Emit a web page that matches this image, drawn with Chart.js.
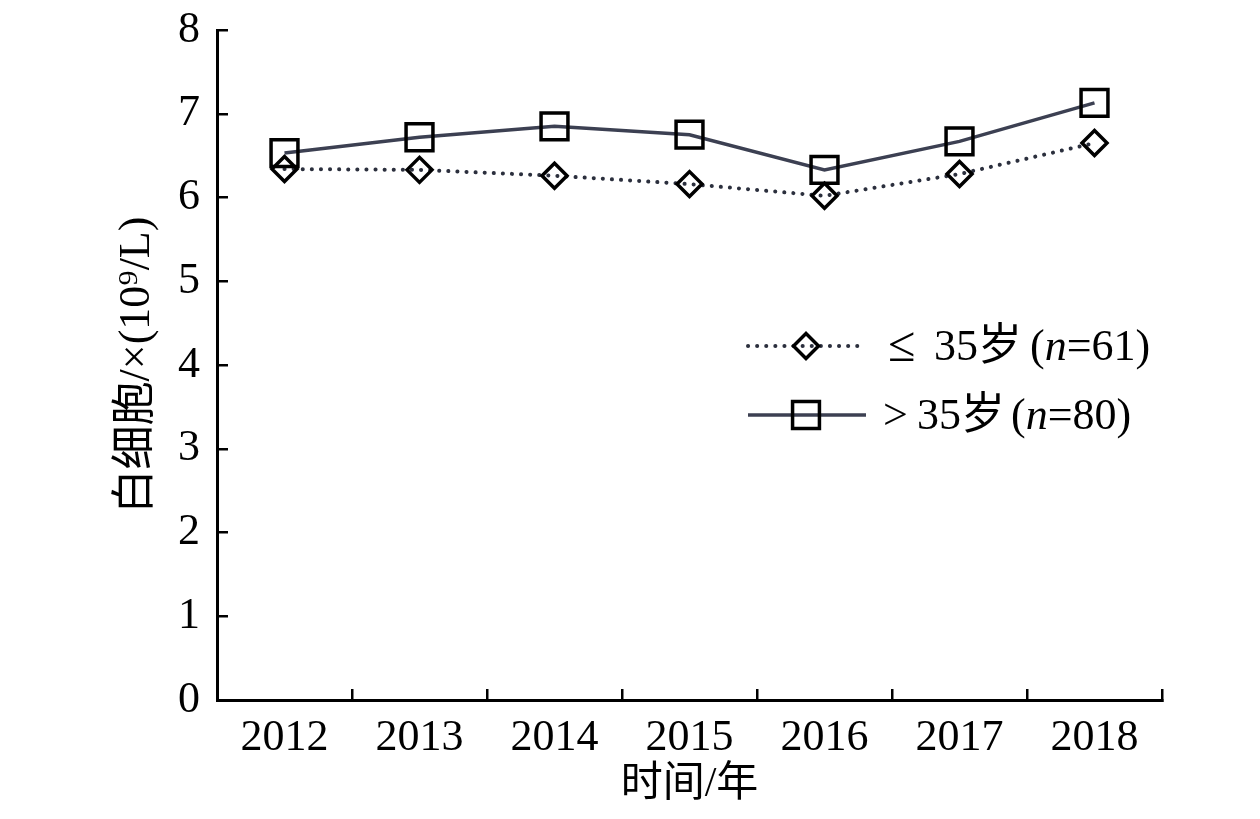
<!DOCTYPE html>
<html>
<head>
<meta charset="utf-8">
<script src="https://cdn.jsdelivr.net/npm/chart.js@4.4.1/dist/chart.umd.min.js"></script>
<style>
  html, body { margin: 0; padding: 0; background: #fff; }
</style>
</head>
<body>
<canvas id="chart-wbc" width="1260" height="819"></canvas>
<script>
// values
const years = ['2012', '2013', '2014', '2015', '2016', '2017', '2018'];
const youngValues = [6.34, 6.33, 6.26, 6.16, 6.02, 6.28, 6.65]; // <= 35 years
const olderValues = [6.53, 6.72, 6.85, 6.75, 6.33, 6.67, 7.13]; // > 35 years
const yMin = 0, yMax = 8, yStep = 1;
const youngLabel = ['\u2264', '35岁', '(', 'n', '=61)'];
const olderLabel = ['>', '35岁', '(', 'n', '=80)'];

const serif = '"Liberation Serif", "Times New Roman", "Noto Sans CJK SC", serif';
const lineGrey = '#3c4052';

const ctx = document.getElementById('chart-wbc').getContext('2d');

const youngSet = {
    label: youngLabel.join(' '),
    data: youngValues,
    borderColor: '#2b2f3d',
    borderWidth: 4,
    borderDash: [0.1, 9],
    borderCapStyle: 'round',
    pointStyle: 'rectRot',
    pointRadius: 12.5,
    pointBorderColor: '#000',
    pointBorderWidth: 3.5,
    pointBackgroundColor: 'rgba(0,0,0,0)',
    tension: 0
};
const olderSet = {
    label: olderLabel.join(' '),
    data: olderValues,
    borderColor: lineGrey,
    borderWidth: 3.5,
    pointStyle: 'rect',
    pointRadius: 19,
    pointBorderColor: '#000',
    pointBorderWidth: 3.5,
    pointBackgroundColor: 'rgba(0,0,0,0)',
    tension: 0
};

// legend drawn inside the plot, like the figure
const insideLegend = {
    id: 'insideLegend',
    afterDraw(chart) {
        const c = chart.ctx;
        const rows = [
            { ds: youngSet, parts: youngLabel, y: 346, x0: 748, x1: 860, starts: [888, 934, 1030], sym: 50 },
            { ds: olderSet, parts: olderLabel, y: 415, x0: 748, x1: 866, starts: [883, 917, 1011], sym: 44 }
        ];
        c.save();
        rows.forEach(r => {
            c.beginPath();
            c.strokeStyle = r.ds.borderColor;
            c.lineWidth = r.ds.borderWidth;
            c.lineCap = r.ds.borderCapStyle || 'butt';
            c.setLineDash(r.ds.borderDash || []);
            c.moveTo(r.x0, r.y);
            c.lineTo(r.x1, r.y);
            c.stroke();
            c.setLineDash([]);
            c.lineCap = 'butt';
            c.strokeStyle = '#000';
            c.fillStyle = 'rgba(0,0,0,0)';
            c.lineWidth = r.ds.pointBorderWidth;
            Chart.helpers.drawPoint(c, {
                pointStyle: r.ds.pointStyle,
                radius: r.ds.pointRadius,
                rotation: 0,
                borderWidth: r.ds.pointBorderWidth
            }, 806, r.y);

            c.fillStyle = '#000';
            c.textBaseline = 'middle';
            c.font = r.sym + 'px ' + serif;
            c.fillText(r.parts[0], r.starts[0], r.y + 2);
            c.font = '44px ' + serif;
            c.fillText(r.parts[1], r.starts[1], r.y + 2);
            let x = r.starts[2];
            r.parts.slice(2).forEach((p, i) => {
                c.font = (i === 1 ? 'italic ' : '') + '44px ' + serif;
                c.fillText(p, x, r.y + 2);
                x += c.measureText(p).width;
            });
        });
        c.restore();
    }
};

new Chart(ctx, {
    type: 'line',
    data: {
        labels: years,
        datasets: [olderSet, youngSet]
    },
    options: {
        responsive: false,
        devicePixelRatio: 1,
        animation: false,
        layout: { padding: { left: 0, top: 30, right: 98, bottom: 0 } },
        plugins: {
            legend: { display: false },
            tooltip: { enabled: false }
        },
        scales: {
            x: {
                type: 'category',
                offset: true,
                afterFit: s => { s.height = 119; },
                border: { color: '#000', width: 3 },
                grid: {
                    offset: true,
                    drawOnChartArea: false,
                    drawTicks: true,
                    tickLength: -11,
                    color: '#000',
                    lineWidth: 2.5
                },
                ticks: {
                    color: '#000',
                    padding: 23,
                    maxRotation: 0,
                    font: { family: serif, size: 44 }
                },
                title: {
                    display: true,
                    text: '时间/年',
                    color: '#000',
                    padding: { top: 0, bottom: 9 },
                    font: { family: serif, size: 42 }
                }
            },
            y: {
                min: yMin,
                max: yMax,
                afterFit: s => {
                    s.width = 217;
                    s.paddingTop = 20;
                    s.paddingBottom = 20;
                },
                border: { color: '#000', width: 3 },
                grid: {
                    drawOnChartArea: false,
                    drawTicks: true,
                    tickLength: -11,
                    color: '#000',
                    lineWidth: 2.5
                },
                ticks: {
                    stepSize: yStep,
                    color: '#000',
                    padding: 28,
                    font: { family: serif, size: 44 }
                },
                title: {
                    display: true,
                    text: '白细胞/×(10⁹/L)',
                    color: '#000',
                    padding: { top: 111, bottom: 0 },
                    font: { family: serif, size: 44 }
                }
            }
        }
    },
    plugins: [insideLegend]
});
</script>
</body>
</html>
